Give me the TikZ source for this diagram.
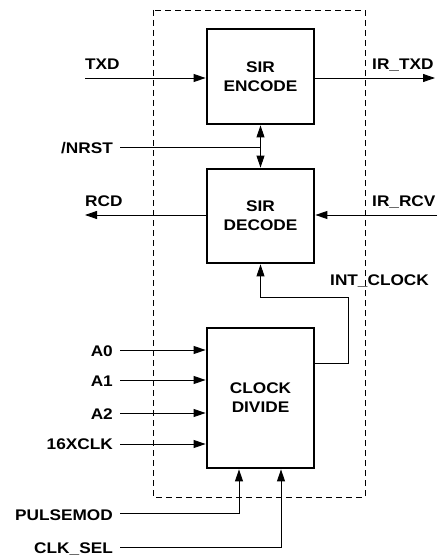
\documentclass[tikz,border=0pt]{standalone}
\usepackage{fontspec}
\setmainfont{Liberation Sans}[FakeStretch=1.12]
\usetikzlibrary{arrows.meta}
\tikzset{
  blk/.style={draw, line width=2.8pt, minimum width=107pt, align=center, inner sep=0pt, font=\bfseries\fontsize{15.4}{19}\selectfont},
  lbl/.style={inner sep=0pt, font=\bfseries\fontsize{15.4}{19}\selectfont},
  wire/.style={line width=0.9pt},
  arr/.style={wire, -{Triangle[length=12pt,width=8pt]}},
  dbl/.style={wire, {Triangle[length=12pt,width=8pt]}-{Triangle[length=12pt,width=8pt]}},
  frame/.style={line width=0.9pt, dash pattern=on 6pt off 4pt}
}
\begin{document}
\begin{tikzpicture}[x=1pt,y=-1pt]
\useasboundingbox (0,0) rectangle (443,559);
\draw[frame] (153,10) rectangle (365,497);
\node[blk, minimum height=95pt] (enc) at (260.5,76.5) {SIR\\ENCODE};
\node[blk, minimum height=94pt] (dec) at (260.5,216) {SIR\\DECODE};
\node[blk, minimum height=140pt] (clk) at (260.5,398) {CLOCK\\DIVIDE};
% labels
\node[lbl, anchor=base west] (ltxd) at (85,70) {TXD};
\node[lbl, anchor=base west] (lirtxd) at (372,70) {IR\_TXD};
\node[lbl, anchor=base east] (lnrst) at (113,153) {/NRST};
\node[lbl, anchor=base west] (lrcd) at (85,206) {RCD};
\node[lbl, anchor=base west] (lirrcv) at (372,206) {IR\_RCV};
\node[lbl, anchor=base west] (lint) at (330,285) {INT\_CLOCK};
\node[lbl, anchor=base east] (la0) at (113,356) {A0};
\node[lbl, anchor=base east] (la1) at (113,386) {A1};
\node[lbl, anchor=base east] (la2) at (113,419) {A2};
\node[lbl, anchor=base east] (l16) at (113,449.5) {16XCLK};
\node[lbl, anchor=base east] (lpm) at (113,520) {PULSEMOD};
\node[lbl, anchor=base east] (lcs) at (113,553) {CLK\_SEL};
% wire endpoints
\coordinate (ctxd) at (85,78);
\coordinate (cirtxd) at (435,78);
\coordinate (cnrst) at (120,147);
\coordinate (crcd) at (85,215);
\coordinate (cirrcv) at (437,215);
\coordinate (ca0) at (120,350);
\coordinate (ca1) at (120,380);
\coordinate (ca2) at (120,413);
\coordinate (c16) at (120,444);
\coordinate (cpm) at (120,513);
\coordinate (ccs) at (120,547);
\coordinate (cpmx) at (239,0);
\coordinate (ccsx) at (281,0);
\coordinate (cinty) at (0,363);
\coordinate (cintout) at (clk.east |- cinty);
\coordinate (cintx) at (348,297);
% connectors
\draw[arr] (ctxd) -- (enc.west |- ctxd);
\draw[arr] (enc.east |- cirtxd) -- (cirtxd);
\draw[dbl] (enc.south) -- (dec.north);
\draw[wire] (cnrst) -- (enc.south |- cnrst);
\draw[arr] (dec.west |- crcd) -- (crcd);
\draw[arr] (cirrcv) -- (dec.east |- cirrcv);
\draw[arr] (cintout) -| (cintx) -| (dec.south);
\draw[arr] (ca0) -- (clk.west |- ca0);
\draw[arr] (ca1) -- (clk.west |- ca1);
\draw[arr] (ca2) -- (clk.west |- ca2);
\draw[arr] (c16) -- (clk.west |- c16);
\draw[arr] (cpm) -| (clk.south -| cpmx);
\draw[arr] (ccs) -| (clk.south -| ccsx);
\end{tikzpicture}
\end{document}
